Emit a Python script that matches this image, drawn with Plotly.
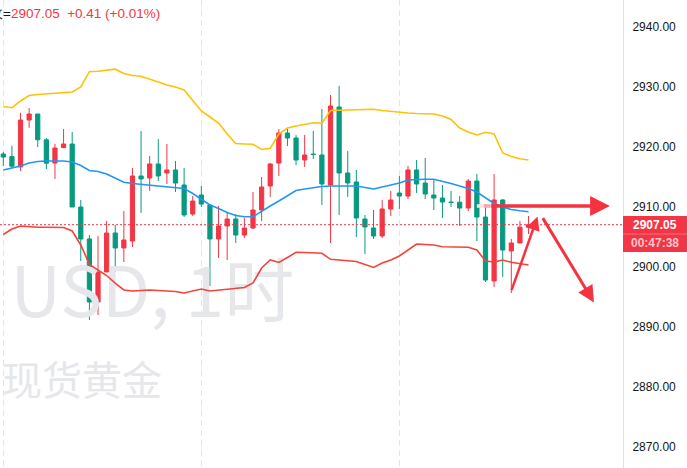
import plotly.graph_objects as go

# ---------------- data ----------------
BAR = list(range(1, 63))
OPEN = [2918.83, 2918.4, 2916.67, 2924.5, 2925.5, 2921.2, 2917.33, 2919.9, 2920.5, 2910.0,
        2904.67, 2894.17, 2899.17, 2905.67, 2903.17, 2904.33, 2915.17, 2914.83, 2917.17, 2915.67,
        2916.17, 2913.67, 2908.83, 2912.0, 2910.33, 2904.67, 2906.83, 2908.0, 2905.33, 2906.5,
        2909.5, 2913.5, 2917.33, 2922.33, 2921.5, 2917.83, 2918.83, 2918.67, 2913.67, 2926.67,
        2915.67, 2914.17, 2908.0, 2906.5, 2905.17, 2909.67, 2912.33, 2911.83, 2916.17, 2914.0,
        2912.0, 2911.5, 2910.83, 2910.8, 2909.83, 2914.33, 2908.33, 2897.67, 2911.17, 2902.67,
        2904.0, 2906.64]
HIGH = [2919.17, 2920.2, 2925.7, 2926.5, 2925.5, 2921.5, 2920.5, 2923.0, 2922.5, 2911.17,
        2905.33, 2905.17, 2907.67, 2907.0, 2909.33, 2916.5, 2922.67, 2918.5, 2921.33, 2920.5,
        2917.67, 2916.5, 2911.83, 2913.5, 2910.33, 2910.17, 2909.17, 2908.83, 2908.17, 2912.5,
        2915.0, 2917.33, 2923.0, 2923.0, 2922.0, 2922.0, 2922.67, 2926.33, 2928.67, 2930.17,
        2919.33, 2916.17, 2908.67, 2909.5, 2911.17, 2912.67, 2915.17, 2916.83, 2917.83, 2918.17,
        2914.5, 2913.67, 2912.67, 2911.83, 2914.67, 2915.5, 2910.5, 2915.5, 2911.33, 2904.67,
        2907.67, 2908.5]
LOW = [2916.83, 2916.5, 2916.0, 2923.2, 2920.0, 2916.3, 2914.67, 2919.8, 2910.0, 2901.0,
       2891.17, 2892.0, 2899.17, 2899.17, 2900.83, 2903.33, 2909.0, 2912.67, 2914.33, 2913.83,
       2912.5, 2908.33, 2908.5, 2910.0, 2896.83, 2901.5, 2901.17, 2904.0, 2904.83, 2906.33,
       2907.67, 2911.67, 2915.17, 2920.17, 2917.0, 2916.67, 2918.0, 2910.33, 2904.0, 2908.67,
       2911.67, 2905.0, 2902.17, 2904.67, 2904.83, 2908.5, 2909.67, 2911.33, 2912.33, 2911.33,
       2909.5, 2908.17, 2910.0, 2906.83, 2909.33, 2904.33, 2897.5, 2896.67, 2898.33, 2895.67,
       2904.0, 2905.5]
CLOSE = [2918.33, 2916.8, 2924.5, 2925.5, 2921.2, 2917.3, 2919.83, 2920.5, 2910.0, 2904.67,
         2894.17, 2899.17, 2905.67, 2903.17, 2904.5, 2915.17, 2914.67, 2917.17, 2915.17, 2916.17,
         2914.0, 2908.67, 2911.0, 2910.5, 2904.67, 2906.83, 2908.0, 2905.33, 2906.5, 2909.5,
         2913.33, 2917.17, 2922.33, 2921.5, 2917.83, 2918.67, 2918.75, 2913.83, 2926.83, 2915.67,
         2914.0, 2908.17, 2906.67, 2905.17, 2909.67, 2911.17, 2911.83, 2916.17, 2913.83, 2912.17,
         2911.5, 2910.83, 2910.75, 2909.83, 2914.33, 2908.33, 2897.83, 2911.17, 2902.83, 2904.0,
         2906.64, 2907.05]

BB_UPPER = [2926.75, 2926.55, 2927.67, 2928.58, 2928.75, 2928.83, 2928.92, 2929.0, 2929.17, 2930.0,
            2932.55, 2932.62, 2932.75, 2932.97, 2932.25, 2931.92, 2931.78, 2931.25, 2930.83, 2930.33,
            2930.0, 2929.5, 2927.83, 2926.0, 2925.0, 2924.0, 2922.17, 2920.58, 2920.5, 2920.45,
            2919.58, 2919.78, 2922.17, 2923.17, 2923.5, 2923.83, 2924.05, 2923.95, 2926.08, 2926.12,
            2926.17, 2926.22, 2926.25, 2926.28, 2926.08, 2925.92, 2925.78, 2925.67, 2925.58, 2925.53,
            2925.5, 2925.17, 2924.58, 2923.17, 2922.5, 2922.0, 2922.45, 2922.17, 2919.0, 2918.42,
            2918.03, 2917.83]
BB_BASIS = [2916.17, 2916.5, 2916.83, 2917.33, 2917.58, 2917.67, 2917.67, 2917.67, 2917.5, 2916.92,
            2916.08, 2915.92, 2915.5, 2914.83, 2914.12, 2913.92, 2913.78, 2913.67, 2913.5, 2913.33,
            2913.25, 2913.08, 2912.25, 2911.33, 2910.33, 2909.75, 2909.08, 2908.58, 2908.38, 2908.38,
            2909.33, 2910.17, 2911.0, 2911.92, 2912.75, 2913.0, 2913.22, 2913.42, 2913.5, 2913.5,
            2913.5, 2913.5, 2913.25, 2913.0, 2913.33, 2913.67, 2914.0, 2914.5, 2914.62, 2914.62,
            2914.62, 2914.33, 2913.92, 2913.5, 2913.08, 2912.5, 2911.5, 2910.58, 2910.0, 2909.58,
            2909.38, 2909.22]
BB_LOWER = [2905.42, 2906.33, 2906.83, 2906.67, 2906.62, 2906.62, 2906.62, 2906.58, 2906.0, 2903.67,
            2900.42, 2899.5, 2898.58, 2897.33, 2896.17, 2896.0, 2896.08, 2896.17, 2896.08, 2896.0,
            2895.92, 2895.67, 2896.0, 2896.33, 2896.0, 2896.17, 2896.28, 2896.42, 2896.58, 2897.33,
            2899.83, 2901.17, 2900.75, 2901.58, 2902.45, 2902.42, 2902.33, 2902.28, 2901.28, 2901.17,
            2901.08, 2900.92, 2900.42, 2899.92, 2900.67, 2901.17, 2901.83, 2902.83, 2903.83, 2903.75,
            2903.67, 2903.38, 2903.33, 2903.3, 2903.28, 2902.83, 2901.0, 2900.83, 2901.17, 2900.78,
            2900.5, 2900.33]

PRICE_TICKS = [2870, 2880, 2890, 2900, 2910, 2920, 2930, 2940]
DAY_STARTS = [1, 24, 47]
LAST_PRICE = 2907.05
CHANGE_TEXT = "+0.41 (+0.01%)"
COUNTDOWN = "00:47:38"
WATERMARK_1 = "USD, 1时"
WATERMARK_2 = "现货黄金"

# drawn arrows: (tail_x, tail_y, head_x, head_y, width)
ARROWS = [
    (57.5, 2910.17, 71.45, 2910.17, 3.6),
    (59.97, 2895.9, 63.05, 2908.4, 2.5),
    (63.55, 2908.4, 69.6, 2894.1, 3.0),
]
ARROW_FADE = [(56.0, 56.8, "#FCE0E2"), (56.8, 57.6, "#F8A9AF")]

# ---------------- style ----------------
RED = "#F23645"
GREEN = "#089981"
YELLOW = "#FFC107"
BLUE = "#2196F3"
LOWRED = "#F4433A"
TEXT = "#131722"
WM = "#E6E7EB"
ARROW_RED = "#F5333F"
X_RANGE = [0.617, 72.97]
Y_RANGE = [2866.5, 2944.5]
PLOT_W = 623

fig = go.Figure()

# watermark (drawn first so it sits below everything)
fig.add_trace(go.Scatter(
    x=[1.85, 0.85], y=[2894.6, 2880.3], mode="text",
    text=[WATERMARK_1, WATERMARK_2], textposition="middle right",
    textfont=dict(family=["Noto Sans CJK SC", "Noto Sans CJK SC"],
                  size=[70, 40], color=WM),
    hoverinfo="skip", showlegend=False, cliponaxis=False,
))

for vals, col in [(BB_UPPER, YELLOW), (BB_BASIS, BLUE), (BB_LOWER, LOWRED)]:
    fig.add_trace(go.Scatter(x=BAR, y=vals, mode="lines",
                             line=dict(color=col, width=1.6, shape="linear"),
                             hoverinfo="skip", showlegend=False))

fig.add_trace(go.Candlestick(
    x=BAR, open=OPEN, high=HIGH, low=LOW, close=CLOSE,
    increasing=dict(line=dict(color=RED, width=1), fillcolor=RED),
    decreasing=dict(line=dict(color=GREEN, width=1), fillcolor=GREEN),
    whiskerwidth=0, showlegend=False,
))

shapes = [
    dict(type="line", xref="paper", x0=0, x1=1, yref="y", y0=LAST_PRICE, y1=LAST_PRICE,
         line=dict(color=RED, width=1, dash="2px,2px"), layer="above"),
    dict(type="rect", xref="paper", x0=1.0, x1=687 / PLOT_W, yref="y",
         y0=LAST_PRICE - 4.55, y1=LAST_PRICE + 1.45, fillcolor=RED, line=dict(width=0), layer="above"),
    dict(type="line", xref="paper", x0=1.0, x1=687 / PLOT_W, yref="y",
         y0=LAST_PRICE - 1.55, y1=LAST_PRICE - 1.55, line=dict(color="#F5707B", width=1), layer="above"),
]
for x0, x1, c in ARROW_FADE:
    shapes.append(dict(type="line", xref="x", yref="y", x0=x0, x1=x1,
                       y0=ARROWS[0][1], y1=ARROWS[0][1], line=dict(color=c, width=3.6),
                       layer="above"))

annotations = [
    dict(xref="paper", yref="y", x=655 / PLOT_W, y=LAST_PRICE,
         text="<b>%.2f</b>" % LAST_PRICE, showarrow=False,
         font=dict(family="Liberation Sans, Arial", size=12, color="white"),
         xanchor="center", yanchor="middle"),
    dict(xref="paper", yref="y", x=655 / PLOT_W, y=LAST_PRICE - 3.05,
         text="<b>%s</b>" % COUNTDOWN, showarrow=False,
         font=dict(family="Liberation Sans, Arial", size=12, color="rgba(255,255,255,0.72)"),
         xanchor="center", yanchor="middle"),
    dict(xref="paper", yref="paper", x=-13.5 / PLOT_W, y=1 - 13.5 / 468,
         text='<span style="color:%s">收=</span>%.2f  %s' % (TEXT, LAST_PRICE, CHANGE_TEXT),
         showarrow=False, font=dict(family="Liberation Sans, Arial", size=13.5, color=RED),
         xanchor="left", yanchor="middle"),
]
for tx, ty, hx, hy, w in ARROWS:
    annotations.append(dict(
        x=hx, y=hy, ax=tx, ay=ty, xref="x", yref="y", axref="x", ayref="y",
        text="", showarrow=True, arrowhead=2, arrowsize=1.1, arrowwidth=w,
        arrowcolor=ARROW_RED, standoff=0, startstandoff=0,
    ))

fig.update_layout(
    width=687, height=468,
    margin=dict(l=0, r=687 - PLOT_W, t=0, b=0),
    paper_bgcolor="white", plot_bgcolor="white",
    showlegend=False, hovermode=False,
    boxgap=0.3,
    shapes=shapes, annotations=annotations,
    xaxis=dict(range=X_RANGE, rangeslider=dict(visible=False), showticklabels=False,
               tickvals=DAY_STARTS, showgrid=True, gridcolor="#E3E5EB", gridwidth=1.5,
               griddash="6px,4px", zeroline=False, showline=False, ticks=""),
    yaxis=dict(range=Y_RANGE, side="right", tickvals=PRICE_TICKS, tickformat=".2f",
               showgrid=False, zeroline=False, showline=True, linecolor="#E0E3EB", linewidth=1,
               ticks="", ticklabelstandoff=6,
               tickfont=dict(family="Liberation Sans, Arial", size=12, color=TEXT)),
)

fig.write_html("out.html", config={"displayModeBar": False, "staticPlot": True},
               post_script="document.body.style.margin='0';document.body.style.overflow='hidden';")
